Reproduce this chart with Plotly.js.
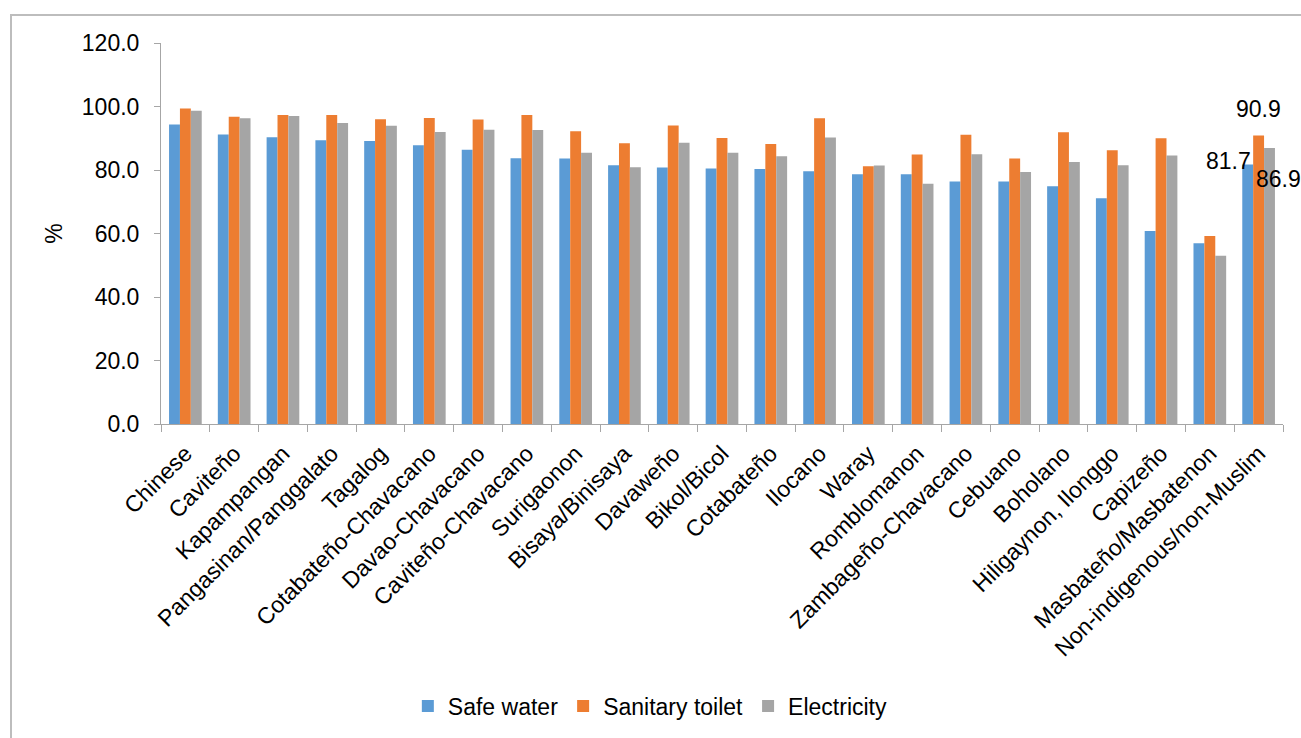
<!DOCTYPE html>
<html>
<head>
<meta charset="utf-8">
<script src="https://cdn.plot.ly/plotly-3.0.1.min.js"></script>
<style>
html,body{margin:0;padding:0;overflow:hidden;background:#fff;}
#frame{position:absolute;left:10px;top:14px;width:1400px;height:900px;border:2px solid #bdbdbd;pointer-events:none;}
#chart{position:absolute;left:0;top:0;width:1301px;height:738px;}
</style>
</head>
<body>
<div id="chart"></div>
<div id="frame"></div>
<script>
const categories = ["Chinese","Caviteño","Kapampangan","Pangasinan/Panggalato","Tagalog","Cotabateño-Chavacano","Davao-Chavacano","Caviteño-Chavacano","Surigaonon","Bisaya/Binisaya","Davaweño","Bikol/Bicol","Cotabateño","Ilocano","Waray","Romblomanon","Zambageño-Chavacano","Cebuano","Boholano","Hiligaynon, Ilonggo","Capizeño","Masbateño/Masbatenon","Non-indigenous/non-Muslim"];
const safeWater =      [94.3,91.2,90.3,89.4,89.1,87.8,86.4,83.7,83.6,81.5,80.8,80.5,80.3,79.6,78.7,78.7,76.4,76.4,74.9,71.1,60.8,56.9,81.7];
const sanitaryToilet = [99.4,96.8,97.3,97.3,96.0,96.4,95.9,97.3,92.2,88.4,94.0,90.1,88.2,96.3,81.2,84.9,91.1,83.6,91.9,86.2,90.0,59.2,90.9];
const electricity =    [98.7,96.3,97.0,94.8,93.9,92.0,92.7,92.6,85.4,80.9,88.6,85.4,84.3,90.2,81.4,75.7,85.0,79.4,82.5,81.5,84.6,53.0,86.9];
const seriesNames = ["Safe water","Sanitary toilet","Electricity"];
const colors = ["#5B9BD5","#ED7D31","#A5A5A5"];

const FONT = "Liberation Sans, Arial, sans-serif";
const FS = 23;
const series = [safeWater, sanitaryToilet, electricity];
const traces = series.map((vals,i)=>({
  type:'bar', x:categories, y:vals, name:seriesNames[i],
  marker:{color:colors[i]}, hoverinfo:'x+y'
}));

const last = categories.length-1;
const layout = {
  width:1301, height:738,
  margin:{l:161, r:18, t:43, b:314, autoexpand:false},
  paper_bgcolor:'rgba(0,0,0,0)', plot_bgcolor:'rgba(0,0,0,0)',
  font:{family:FONT, size:FS, color:'#000'},
  barmode:'group', bargap:0.33, bargroupgap:0,
  showlegend:true,
  legend:{orientation:'h', x:0.22, xanchor:'left', y:-0.74, yanchor:'middle',
          font:{family:FONT,size:FS,color:'#000'}, itemwidth:30, traceorder:'normal'},
  xaxis:{type:'category', range:[-0.5, categories.length-0.5], showline:true, linecolor:'#a6a6a6', linewidth:1,
         ticks:'outside', tickson:'boundaries', ticklen:7, tickcolor:'#a6a6a6',
         ticklabelstandoff:6,
         tickangle:-45, tickfont:{family:FONT,size:FS,color:'#000'}, showgrid:false, automargin:false},
  yaxis:{range:[0,120], dtick:20, tickformat:'.1f', showline:true, linecolor:'#a6a6a6', linewidth:1,
         ticks:'outside', ticklen:6, tickcolor:'#a6a6a6', showgrid:false, zeroline:false,
         ticklabelstandoff:10,
         tickfont:{family:FONT,size:FS,color:'#000'},
         title:{text:'%', font:{family:FONT,size:FS,color:'#000'}, standoff:12}, automargin:false},
  annotations:[
    {x:categories[last], y:safeWater[last], text:safeWater[last].toFixed(1), showarrow:false,
     xshift:-30, yshift:4, font:{family:FONT,size:FS,color:'#000'}},
    {x:categories[last], y:sanitaryToilet[last], text:sanitaryToilet[last].toFixed(1), showarrow:false,
     xshift:0, yshift:26, font:{family:FONT,size:FS,color:'#000'}},
    {x:categories[last], y:electricity[last], text:electricity[last].toFixed(1), showarrow:false,
     xanchor:'left', xshift:-5, yshift:-31, font:{family:FONT,size:FS,color:'#000'}}
  ]
};
Plotly.newPlot('chart', traces, layout, {displayModeBar:false, staticPlot:true});
</script>
</body>
</html>
